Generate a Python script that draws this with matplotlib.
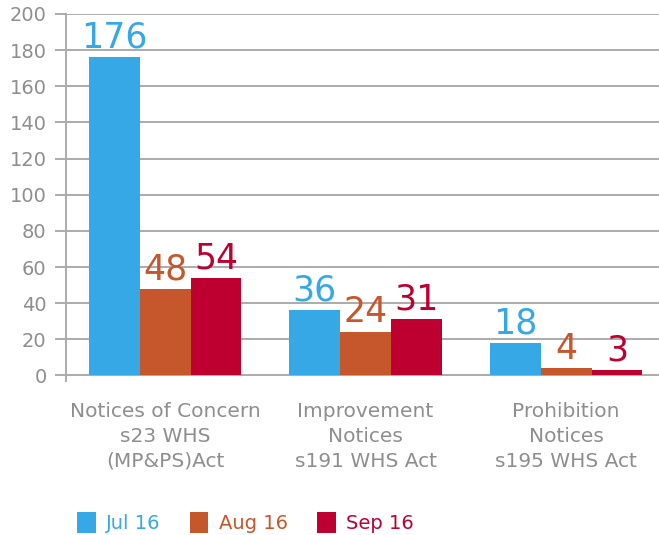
import numpy as np
import matplotlib.pyplot as plt

categories = ['Notices of Concern\ns23 WHS\n(MP&PS)Act',
              'Improvement\nNotices\ns191 WHS Act',
              'Prohibition\nNotices\ns195 WHS Act']
months = ['Jul 16', 'Aug 16', 'Sep 16']
jul = [176, 36, 18]
aug = [48, 24, 4]
sep = [54, 31, 3]
colors = ['#36A8E6', '#C6572C', '#BD0030']
grey = '#8E8E8E'

fig = plt.figure(figsize=(6.59, 5.35), dpi=100)
ax = fig.add_axes([0.1002, 0.288, 0.9, 0.686])

x = np.arange(len(categories))
w = 0.254
series = [jul, aug, sep]
for i, (vals, c, lab) in enumerate(zip(series, colors, months)):
    bars = ax.bar(x + (i - 1) * w, vals, w, color=c, label=lab, zorder=3)
    for b, v in zip(bars, vals):
        ax.text(b.get_x() + b.get_width() / 2, v + 1.5, str(v), ha='center', va='bottom',
                fontsize=25, color=c, zorder=4)

ax.set_xlim(-0.494, 2.464)
ax.set_ylim(-3, 200)
ax.set_yticks(np.arange(0, 201, 20))
ax.yaxis.grid(True, color='#ABABAB', linewidth=1.4, zorder=0)
ax.tick_params(axis='y', colors='#ABABAB', labelcolor=grey, labelsize=14,
               length=8, width=1.4, pad=6)
ax.set_xticks(x)
ax.set_xticklabels(categories, fontsize=14.5, color=grey, linespacing=1.4)
ax.tick_params(axis='x', length=0, pad=15)
for s in ['top', 'right', 'bottom']:
    ax.spines[s].set_visible(False)
ax.spines['left'].set_color('#ABABAB')
ax.spines['left'].set_linewidth(1.4)

leg = fig.legend(loc='center left', bbox_to_anchor=(0.117, 0.024), ncol=3, frameon=False,
                 fontsize=14, handlelength=0.95, handleheight=1.3, columnspacing=1.5,
                 handletextpad=0.55, borderpad=0, borderaxespad=0)
for t, c in zip(leg.get_texts(), colors):
    t.set_color(c)

fig.savefig('out.png', dpi=100)
